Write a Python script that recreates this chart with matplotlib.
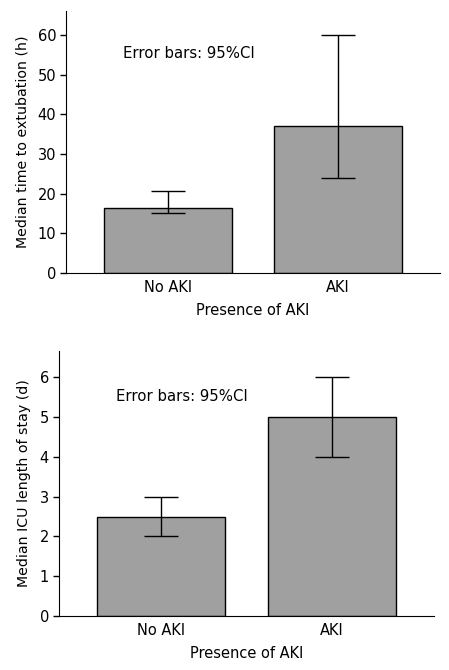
import numpy as np
import matplotlib.pyplot as plt

groups = ["No AKI", "AKI"]

# time to extubation (h), median and 95% CI
extub_median = [16.3, 37.0]
extub_low = [15.0, 24.0]
extub_high = [20.6, 60.0]

# ICU length of stay (d), median and 95% CI
icu_median = [2.5, 5.0]
icu_low = [2.0, 4.0]
icu_high = [3.0, 6.0]

plt.rcParams['font.family'] = ['DejaVu Sans']

fig = plt.figure(figsize=(4.49, 6.70), dpi=100)
ax1 = fig.add_axes([0.147, 0.5925, 0.833, 0.391])
ax2 = fig.add_axes([0.1307, 0.0806, 0.836, 0.3955])


def draw(ax, med, lo, hi, ylim, yticks, ylabel, txt_y):
    x = np.arange(len(groups))
    med = np.array(med)
    err = [med - np.array(lo), np.array(hi) - med]
    ax.bar(x, med, width=0.75, color='#a0a0a0', edgecolor='black', linewidth=1.0)
    ax.errorbar(x, med, yerr=err, fmt='none', ecolor='black', elinewidth=1.0,
                capsize=12.5, capthick=1.0)
    ax.set_xlim(-0.6, 1.6)
    ax.set_ylim(*ylim)
    ax.set_yticks(yticks)
    ax.set_xticks(x)
    ax.set_xticklabels(groups)
    ax.spines['top'].set_visible(False)
    ax.spines['right'].set_visible(False)
    ax.tick_params(axis='x', length=0, labelsize=10.5, pad=5)
    ax.tick_params(axis='y', length=4, width=1, labelsize=10.5, pad=3)
    ax.set_ylabel(ylabel, fontsize=10.2, labelpad=6)
    ax.set_xlabel("Presence of AKI", fontsize=10.5, labelpad=6)
    ax.text(0.12, txt_y, "Error bars: 95%CI", ha='center', va='center', fontsize=10.7)


draw(ax1, extub_median, extub_low, extub_high, (0, 66), range(0, 61, 10),
     "Median time to extubation (h)", 55.4)
draw(ax2, icu_median, icu_low, icu_high, (0, 6.66), range(0, 7),
     "Median ICU length of stay (d)", 5.51)

fig.savefig("out.png", dpi=100)
